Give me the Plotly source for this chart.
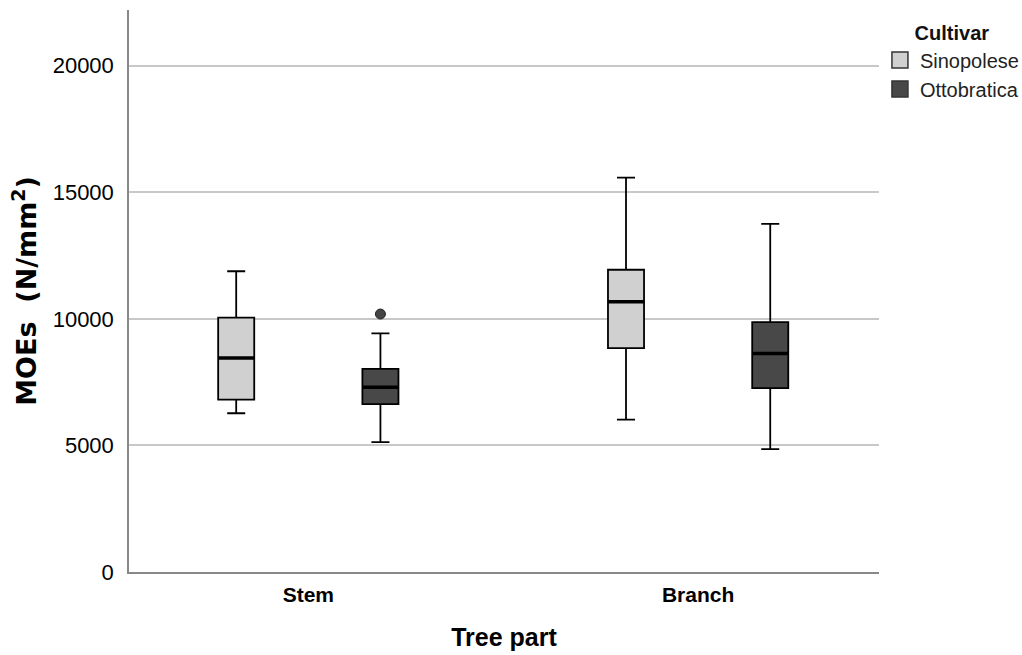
import plotly.graph_objects as go

categories = ["Stem", "Branch"]
cultivars = ["Sinopolese", "Ottobratica"]

sino_low = [6270, 6020]
sino_q1 = [6810, 8840]
sino_med = [8450, 10680]
sino_q3 = [10050, 11940]
sino_high = [11880, 15580]

otto_low = [5130, 4850]
otto_q1 = [6630, 7260]
otto_med = [7300, 8630]
otto_q3 = [8020, 9870]
otto_high = [9430, 13750]
otto_outliers = [[10190], []]

fills = ["#d0d0d0", "#484848"]
FONT = "Liberation Sans, Arial, sans-serif"

fig = go.Figure()
fig.add_trace(go.Box(
    name=cultivars[0], x=categories, offsetgroup="s",
    lowerfence=sino_low, q1=sino_q1, median=sino_med, q3=sino_q3, upperfence=sino_high,
    fillcolor=fills[0], line=dict(color="black", width=1.8),
    whiskerwidth=0.5, boxpoints=False, showlegend=False, legendgroup=cultivars[0],
))
fig.add_trace(go.Box(
    name=cultivars[1], x=categories, y=otto_outliers, offsetgroup="o",
    lowerfence=otto_low, q1=otto_q1, median=otto_med, q3=otto_q3, upperfence=otto_high,
    fillcolor=fills[1], line=dict(color="black", width=1.8),
    marker=dict(color="#444444", size=10, line=dict(color="#222222", width=1)),
    whiskerwidth=0.5, boxpoints="outliers", showlegend=False, legendgroup=cultivars[1],
))
# thicker median lines drawn from the median arrays
for name, med, grp in [(cultivars[0], sino_med, "s"), (cultivars[1], otto_med, "o")]:
    fig.add_trace(go.Box(
        name=name, x=categories, offsetgroup=grp,
        lowerfence=med, q1=med, median=med, q3=med, upperfence=med,
        fillcolor="rgba(0,0,0,0)", line=dict(color="black", width=3.5),
        whiskerwidth=0, boxpoints=False, showlegend=False, hoverinfo="skip",
        legendgroup=name,
    ))
# legend entries (square swatches)
for name, col in zip(cultivars, fills):
    fig.add_trace(go.Scatter(
        x=[None], y=[None], mode="markers", name=name, legendgroup=name,
        marker=dict(symbol="square", size=16, color=col, line=dict(color="#333333", width=1.5)),
    ))

fig.update_layout(
    width=1022, height=655,
    margin=dict(l=129, r=143, t=10, b=83),
    paper_bgcolor="white", plot_bgcolor="white",
    boxmode="group", boxgap=0.26, boxgroupgap=0.75,
    font=dict(family=FONT, color="black"),
    legend=dict(
        title=dict(text="<b>Cultivar</b>", font=dict(size=20, color="#111111"), side="top center"),
        xref="container", yref="container",
        x=0.861, y=0.978, xanchor="left", yanchor="top",
        font=dict(size=20, color="#222222"),
        bgcolor="rgba(0,0,0,0)", itemsizing="trace", itemwidth=30,
        tracegroupgap=0, borderwidth=0,
    ),
    showlegend=True,
)
fig.update_xaxes(
    range=[-0.46, 1.464], automargin=False,
    showline=True, linecolor="#888888", linewidth=1.5,
    showgrid=False, ticks="outside", ticklen=3, tickcolor="rgba(0,0,0,0)",
    tickfont=dict(size=21, family=FONT, weight="bold"),
    title=dict(text="<b>Tree part</b>", font=dict(size=25), standoff=24),
)
fig.update_yaxes(
    range=[0, 22200], automargin=False,
    tickvals=[0, 5000, 10000, 15000, 20000], tickformat="d",
    showline=True, linecolor="#888888", linewidth=1.5,
    showgrid=True, gridcolor="#c8c8c8", gridwidth=1.5,
    ticks="outside", ticklen=9, tickcolor="rgba(0,0,0,0)",
    tickfont=dict(size=22),
    zeroline=False,
    title=dict(text="<b>MOEs&nbsp;&nbsp;(N/mm<sup>2</sup>)</b>",
               font=dict(size=27, family="DejaVu Sans"), standoff=8),
)

fig.write_html(
    "out.html",
    config={"displayModeBar": False},
    post_script="document.body.style.margin='0';document.body.style.overflow='hidden';",
)
